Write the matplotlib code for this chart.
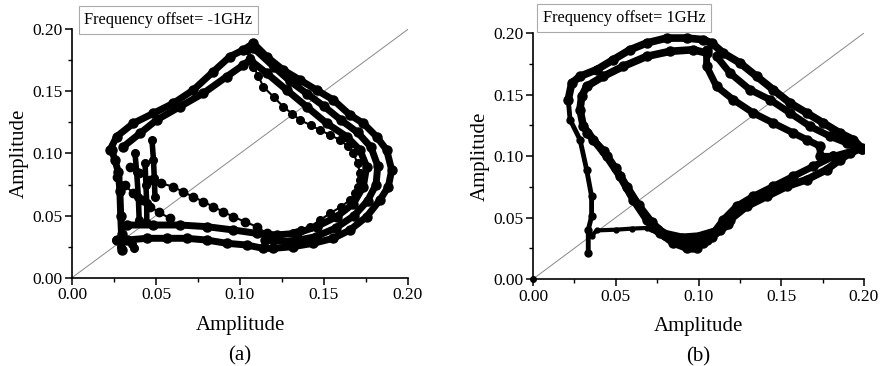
import numpy as np
import matplotlib
matplotlib.use('Agg')
import matplotlib.pyplot as plt
from matplotlib.ticker import MultipleLocator, FormatStrFormatter

plt.rcParams['font.family'] = ['Liberation Serif', 'DejaVu Serif']

# ---- panel (a): frequency offset = -1 GHz ----
a_outer_x = [0.0226, 0.0266, 0.0365, 0.0484, 0.0603, 0.0722, 0.0841, 0.0940, 0.1020, 0.1080,
             0.1159, 0.1258, 0.1357, 0.1456, 0.1556, 0.1655, 0.1734, 0.1813, 0.1873, 0.1903,
             0.1883, 0.1833, 0.1754, 0.1655, 0.1556, 0.1437, 0.1317, 0.1198, 0.1139, 0.1040,
             0.0921, 0.0802, 0.0683, 0.0563, 0.0444, 0.0325, 0.0266]
a_outer_y = [0.1028, 0.1136, 0.1243, 0.1323, 0.1404, 0.1511, 0.1659, 0.1780, 0.1834, 0.1887,
             0.1780, 0.1672, 0.1592, 0.1511, 0.1431, 0.1310, 0.1243, 0.1136, 0.1028, 0.0867,
             0.0733, 0.0626, 0.0491, 0.0384, 0.0317, 0.0277, 0.0250, 0.0236, 0.0236, 0.0263,
             0.0277, 0.0303, 0.0317, 0.0317, 0.0317, 0.0303, 0.0303]
a_inner_x = [0.0306, 0.0405, 0.0504, 0.0643, 0.0782, 0.0921, 0.1020, 0.1060, 0.1159, 0.1278,
             0.1397, 0.1516, 0.1635, 0.1714, 0.1754, 0.1734, 0.1675, 0.1575, 0.1456, 0.1337,
             0.1218, 0.1099, 0.0960, 0.0802, 0.0643, 0.0484, 0.0325]
a_inner_y = [0.1055, 0.1162, 0.1270, 0.1377, 0.1485, 0.1619, 0.1713, 0.1753, 0.1646, 0.1511,
             0.1377, 0.1243, 0.1136, 0.1028, 0.0894, 0.0733, 0.0596, 0.0491, 0.0411, 0.0357,
             0.0344, 0.0357, 0.0384, 0.0411, 0.0424, 0.0424, 0.0424]
a_mid_x = [0.1080, 0.1200, 0.1300, 0.1400, 0.1500, 0.1600, 0.1700, 0.1780, 0.1820, 0.1810,
           0.1760, 0.1680, 0.1570, 0.1450, 0.1300, 0.1150]
a_mid_y = [0.1850, 0.1700, 0.1580, 0.1480, 0.1380, 0.1270, 0.1170, 0.1050, 0.0900, 0.0750,
           0.0620, 0.0500, 0.0400, 0.0330, 0.0290, 0.0300]
a_dot_x = [0.1040, 0.1060, 0.1080, 0.1110, 0.1139, 0.1200, 0.1258, 0.1310, 0.1357, 0.1420,
           0.1476, 0.1535, 0.1595, 0.1640, 0.1675, 0.1700, 0.1714, 0.1712, 0.1704, 0.1685,
           0.1655, 0.1600, 0.1536, 0.1475, 0.1417, 0.1365, 0.1317]
a_dot_y = [0.1834, 0.1770, 0.1700, 0.1620, 0.1538, 0.1455, 0.1377, 0.1320, 0.1270, 0.1228,
           0.1189, 0.1150, 0.1109, 0.1060, 0.1001, 0.0920, 0.0840, 0.0785, 0.0733, 0.0680,
           0.0626, 0.0570, 0.0518, 0.0462, 0.0411, 0.0380, 0.0357]
a_left_x = [0.0236, 0.0255, 0.0276, 0.0285, 0.0290, 0.0295, 0.0296]
a_left_y = [0.1028, 0.0950, 0.0850, 0.0700, 0.0500, 0.0350, 0.0220]
a_diag1_x = [0.0345, 0.0400, 0.0464, 0.0530, 0.0603, 0.0660, 0.0722, 0.0780, 0.0841, 0.0900,
             0.0960, 0.1030, 0.1099, 0.1159]
a_diag1_y = [0.0894, 0.0840, 0.0787, 0.0760, 0.0733, 0.0690, 0.0652, 0.0612, 0.0572, 0.0530,
             0.0491, 0.0450, 0.0411, 0.0357]
a_diag2_x = [0.0266, 0.0315, 0.0365, 0.0415, 0.0464, 0.0520, 0.0583]
a_diag2_y = [0.0813, 0.0745, 0.0679, 0.0625, 0.0572, 0.0525, 0.0478]
a_v1_x = [0.0375, 0.0385, 0.0395, 0.0400]
a_v1_y = [0.1003, 0.0850, 0.0650, 0.0465]
a_v2_x = [0.0435, 0.0440, 0.0445, 0.0445]
a_v2_y = [0.0920, 0.0750, 0.0600, 0.0440]
a_v3_x = [0.0476, 0.0485, 0.0490, 0.0494]
a_v3_y = [0.1110, 0.0950, 0.0800, 0.0650]
a_bits_x = [0.0260, 0.0290, 0.0300, 0.0360, 0.0370]
a_bits_y = [0.0300, 0.0250, 0.0220, 0.0270, 0.0240]

# ---- panel (b): frequency offset = 1 GHz ----
b_outer_x = [0.0213, 0.0234, 0.0284, 0.0385, 0.0485, 0.0586, 0.0687, 0.0808, 0.0928, 0.1029,
             0.1080, 0.1150, 0.1251, 0.1351, 0.1452, 0.1553, 0.1654, 0.1755, 0.1855, 0.1936,
             0.1986, 0.1915, 0.1855, 0.1774, 0.1654, 0.1533, 0.1412, 0.1291, 0.1190, 0.1130,
             0.1049, 0.0989, 0.0928, 0.0848, 0.0767, 0.0687, 0.0606, 0.0526, 0.0445, 0.0365,
             0.0304, 0.0284, 0.0294, 0.0324, 0.0425, 0.0546, 0.0687, 0.0828, 0.0969, 0.1049]
b_outer_y = [0.1458, 0.1593, 0.1648, 0.1702, 0.1783, 0.1864, 0.1919, 0.1959, 0.1959, 0.1946,
             0.1919, 0.1837, 0.1756, 0.1648, 0.1539, 0.1431, 0.1350, 0.1268, 0.1187, 0.1133,
             0.1065, 0.1024, 0.0970, 0.0889, 0.0808, 0.0753, 0.0672, 0.0591, 0.0482, 0.0401,
             0.0320, 0.0252, 0.0252, 0.0293, 0.0374, 0.0482, 0.0645, 0.0835, 0.0997, 0.1133,
             0.1241, 0.1377, 0.1485, 0.1566, 0.1648, 0.1729, 0.1810, 0.1851, 0.1864, 0.1837]
b_inner_x = [0.1049, 0.1049, 0.1109, 0.1210, 0.1331, 0.1452, 0.1573, 0.1654, 0.1735, 0.1735, 0.1815]
b_inner_y = [0.1864, 0.1729, 0.1566, 0.1458, 0.1350, 0.1268, 0.1187, 0.1133, 0.1079, 0.0997, 0.0997]
b_mid_x = [0.1109, 0.1190, 0.1311, 0.1432, 0.1553, 0.1674, 0.1795, 0.1896, 0.1986]
b_mid_y = [0.1810, 0.1675, 0.1539, 0.1458, 0.1350, 0.1241, 0.1160, 0.1106, 0.1060]
b_lower_x = [0.1986, 0.1815, 0.1694, 0.1573, 0.1452, 0.1331, 0.1230, 0.1150, 0.1090, 0.1029, 0.0960]
b_lower_y = [0.1060, 0.0997, 0.0916, 0.0835, 0.0753, 0.0672, 0.0591, 0.0482, 0.0374, 0.0293, 0.0260]
b_desc_x = [0.0324, 0.0430, 0.0500, 0.0570, 0.0640, 0.0720, 0.0800, 0.0900, 0.1000, 0.1080]
b_desc_y = [0.1187, 0.1040, 0.0900, 0.0750, 0.0600, 0.0460, 0.0360, 0.0310, 0.0300, 0.0340]
b_left_x = [0.0213, 0.0224, 0.0284, 0.0324, 0.0354, 0.0354, 0.0334, 0.0334]
b_left_y = [0.1458, 0.1295, 0.1133, 0.0889, 0.0672, 0.0509, 0.0401, 0.0211]
b_hline_x = [0.0354, 0.0385, 0.0500, 0.0600, 0.0687, 0.0760]
b_hline_y = [0.0350, 0.0395, 0.0401, 0.0410, 0.0415, 0.0415]
b_bottom_x = [0.0720, 0.0800, 0.0900, 0.1000, 0.1100, 0.1180]
b_bottom_y = [0.0420, 0.0360, 0.0330, 0.0340, 0.0380, 0.0450]
b_origin_x = [0.0]
b_origin_y = [0.0]

diag = [0.0, 0.2]
ticks = [0.00, 0.05, 0.10, 0.15, 0.20]


def band(ax, x, y, lw=5, ms=6.5):
    ax.plot(x, y, color='black', lw=lw, marker='o', ms=ms, solid_capstyle='round',
            solid_joinstyle='round', zorder=3)


def dots(ax, x, y, ms=5.5):
    ax.plot(x, y, color='black', lw=1.5, marker='o', ms=ms, zorder=3)


def style_axes(ax, note, note_x, note_y, letter):
    ax.plot(diag, diag, color='#888888', lw=0.7, zorder=2)
    ax.set_xlim(0, 0.2)
    ax.set_ylim(0, 0.2)
    ax.set_xticks(ticks)
    ax.set_yticks(ticks)
    ax.xaxis.set_minor_locator(MultipleLocator(0.025))
    ax.yaxis.set_minor_locator(MultipleLocator(0.025))
    ax.xaxis.set_major_formatter(FormatStrFormatter('%.2f'))
    ax.yaxis.set_major_formatter(FormatStrFormatter('%.2f'))
    for s in ['top', 'right']:
        ax.spines[s].set_visible(False)
    for s in ['left', 'bottom']:
        ax.spines[s].set_linewidth(1.2)
    ax.tick_params(which='major', direction='out', length=5, width=1.1, labelsize=12.5, pad=2)
    ax.tick_params(which='minor', direction='out', length=3, width=1.0)
    ax.set_xlabel('Amplitude', fontsize=15, labelpad=9)
    ax.set_ylabel('Amplitude', fontsize=15, labelpad=2)
    ax.text(note_x, note_y, note, transform=ax.transAxes, fontsize=11.8, va='center', ha='left',
            bbox=dict(boxstyle='square,pad=0.35', fc='white', ec='#aaaaaa', lw=0.8), clip_on=False)
    ax.text(0.5, -0.315, letter, transform=ax.transAxes, fontsize=15, ha='center', va='center')


fig = plt.figure(figsize=(8.81, 3.66), dpi=100)
ax1 = fig.add_axes([0.0817, 0.2413, 0.3814, 0.6787])
ax2 = fig.add_axes([0.605, 0.2377, 0.3757, 0.6721])

band(ax1, a_outer_x, a_outer_y)
band(ax1, a_inner_x, a_inner_y)
band(ax1, a_mid_x, a_mid_y)
band(ax1, a_left_x, a_left_y)
band(ax1, a_v1_x, a_v1_y, lw=4, ms=5.5)
band(ax1, a_v2_x, a_v2_y, lw=4, ms=5.5)
band(ax1, a_v3_x, a_v3_y, lw=4, ms=5.5)
dots(ax1, a_dot_x, a_dot_y)
dots(ax1, a_diag1_x, a_diag1_y, ms=6)
dots(ax1, a_diag2_x, a_diag2_y, ms=6)
ax1.plot(a_bits_x, a_bits_y, 'o', color='black', ms=5.5, zorder=3)
style_axes(ax1, 'Frequency offset= -1GHz', 0.037, 1.037, '(a)')

band(ax2, b_outer_x, b_outer_y, lw=5.5)
band(ax2, b_inner_x, b_inner_y)
band(ax2, b_mid_x, b_mid_y)
band(ax2, b_lower_x, b_lower_y)
band(ax2, b_desc_x, b_desc_y)
band(ax2, b_bottom_x, b_bottom_y, lw=7)
band(ax2, b_left_x, b_left_y, lw=3.5, ms=5)
ax2.plot(b_hline_x, b_hline_y, color='black', lw=3, marker='o', ms=3.5, zorder=3)
ax2.plot(b_origin_x, b_origin_y, 'o', color='black', ms=4, zorder=3, clip_on=False)
style_axes(ax2, 'Frequency offset= 1GHz', 0.029, 1.061, '(b)')

fig.savefig('out.png', dpi=100)
